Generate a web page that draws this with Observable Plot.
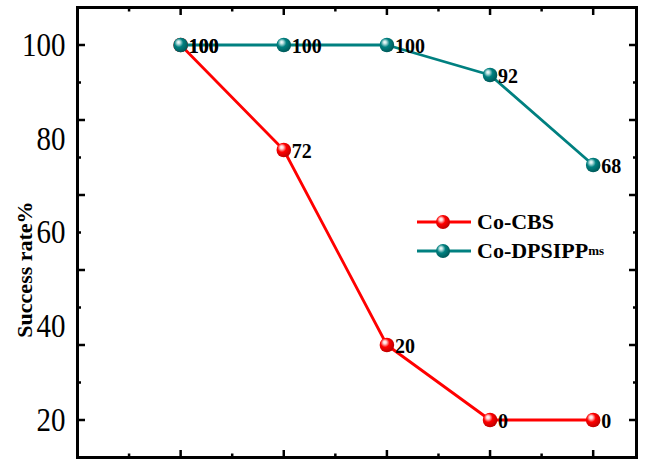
<!DOCTYPE html>
<html><head><meta charset="utf-8">
<script src="https://cdn.jsdelivr.net/npm/d3@7"></script>
<script src="https://cdn.jsdelivr.net/npm/@observablehq/plot@0.6"></script>
<style>
html,body{margin:0;padding:0;background:#fff;}
#wrap{position:relative;width:647px;height:459px;overflow:hidden;}
#legend{position:absolute;left:417px;top:207px;font-family:"Liberation Serif",serif;font-weight:bold;font-size:22px;color:#000;}
.row{display:flex;align-items:center;height:29px;white-space:nowrap;}
.row svg{margin-right:6px;}
.row sub{font-size:13px;vertical-align:-5px;line-height:0;}
</style></head><body><div id="wrap"></div>
<script>
// ---- data ----
const steps = [1, 2, 3, 4, 5];
const seriesNames = ["Co-CBS", "Co-DPSIPP"];
const cbsValues = [100, 72, 20, 0, 0];
const dpsValues = [100, 100, 100, 92, 68];
const seriesColors = ["#ff0000", "#008080"];
const yMajorTicks = [0, 20, 40, 60, 80, 100];
const yMinorTicks = [10, 30, 50, 70, 90];
const xMajorTicks = [1, 2, 3, 4, 5];
const xMinorTicks = [0.5, 1.5, 2.5, 3.5, 4.5];
const yTickPositions = [100, 75, 50, 25, 0];
const yTickLabels = ["100", "80", "60", "40", "20"];
const yTitle = "Success rate%";

const cbsRows = steps.map((s, i) => ({step: s, value: cbsValues[i], label: String(cbsValues[i])}));
const dpsRows = steps.map((s, i) => ({step: s, value: dpsValues[i], label: String(dpsValues[i])}));
const labelMap = new Map(yTickPositions.map((p, i) => [p, yTickLabels[i]]));
const serif = "'Liberation Serif','Times New Roman',serif";

function gradDefs() {
  const g = d3.create("svg:g");
  const defs = g.append("defs");
  [["gradR", "#ff0000", "#ffd6d6", "#c00000"], ["gradT", "#008080", "#bfe3e3", "#005a5a"]].forEach(([id, c, hi, dk]) => {
    const rg = defs.append("radialGradient").attr("id", id).attr("cx", "0.4").attr("cy", "0.4").attr("r", "0.6").attr("fx", "0.35").attr("fy", "0.3");
    rg.append("stop").attr("offset", "0").attr("stop-color", "#ffffff");
    rg.append("stop").attr("offset", "0.18").attr("stop-color", hi);
    rg.append("stop").attr("offset", "0.5").attr("stop-color", c);
    rg.append("stop").attr("offset", "1").attr("stop-color", dk);
  });
  return g.node();
}

const tickStyle = {tickFormat: () => "", label: null, strokeWidth: 2.5};

const chart = Plot.plot({
  width: 647,
  height: 459,
  marginLeft: 77,
  marginRight: 11,
  marginTop: 7,
  marginBottom: 2,
  style: {background: "#fff", overflow: "visible"},
  x: {domain: [0, 5.42], axis: null},
  y: {domain: [-10, 110], axis: null},
  marks: [
    gradDefs,
    // tick marks (inward)
    Plot.axisY(yMajorTicks, {anchor: "left", tickSize: -8, ...tickStyle}),
    Plot.axisY(yMinorTicks, {anchor: "left", tickSize: -4, ...tickStyle}),
    Plot.axisY(yMajorTicks, {anchor: "right", tickSize: -8, ...tickStyle}),
    Plot.axisY(yMinorTicks, {anchor: "right", tickSize: -4, ...tickStyle}),
    Plot.axisX(xMajorTicks, {anchor: "bottom", tickSize: -7, ...tickStyle}),
    Plot.axisX(xMinorTicks, {anchor: "bottom", tickSize: -3.5, ...tickStyle}),
    Plot.axisX(xMajorTicks, {anchor: "top", tickSize: -7, ...tickStyle}),
    Plot.axisX(xMinorTicks, {anchor: "top", tickSize: -3.5, ...tickStyle}),
    // tick labels
    Plot.axisY(yTickPositions, {anchor: "left", tickSize: 0, tickPadding: 12, label: null,
      tickFormat: d => labelMap.get(d), fontSize: 29, fontFamily: serif}),
    Plot.text([yTitle], {text: d => d, frameAnchor: "left", textAnchor: "middle", rotate: -90, dx: -53, dy: 37,
      fontSize: 22, fontWeight: "bold", fontFamily: serif}),
    Plot.frame({stroke: "#000", strokeWidth: 3}),
    // series
    Plot.line(cbsRows, {x: "step", y: "value", stroke: seriesColors[0], strokeWidth: 2.8}),
    Plot.line(dpsRows, {x: "step", y: "value", stroke: seriesColors[1], strokeWidth: 2.8}),
    Plot.dot(cbsRows, {x: "step", y: "value", r: 7.3, fill: "url(#gradR)"}),
    Plot.dot(dpsRows, {x: "step", y: "value", r: 7.3, fill: "url(#gradT)"}),
    Plot.text(cbsRows, {x: "step", y: "value", text: "label", dx: 8, dy: 2, textAnchor: "start",
      fontSize: 20, fontWeight: "bold", fontFamily: serif, fill: "#000"}),
    Plot.text(dpsRows, {x: "step", y: "value", text: "label", dx: 8, dy: 2, textAnchor: "start",
      fontSize: 20, fontWeight: "bold", fontFamily: serif, fill: "#000"})
  ]
});

// slight vertical stretch of the y tick labels, as in the reference
d3.select(chart).selectAll('g[aria-label="y-axis tick label"] text').each(function () {
  const t = this.getAttribute("transform") || "";
  this.setAttribute("transform", t + " scale(1,1.18)");
});

const wrap = document.getElementById("wrap");
wrap.appendChild(chart);

// legend overlay
const legend = document.createElement("div");
legend.id = "legend";
const grads = ["gradR", "gradT"];
seriesNames.forEach((name, i) => {
  const row = document.createElement("div");
  row.className = "row";
  row.innerHTML = `<svg width="54" height="16" viewBox="0 0 54 16"><line x1="0" x2="54" y1="8" y2="8" stroke="${seriesColors[i]}" stroke-width="2.8"/><circle cx="26" cy="8" r="7" fill="url(#${grads[i]})"/></svg>` +
    (i === 1 ? `${name}<sub>ms</sub>` : name);
  legend.appendChild(row);
});
wrap.appendChild(legend);
</script></body></html>
